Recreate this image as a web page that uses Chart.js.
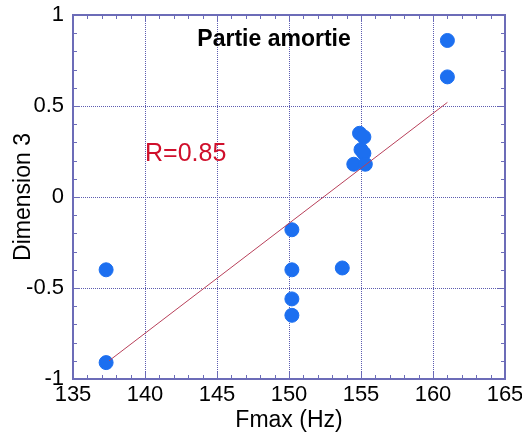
<!DOCTYPE html>
<html>
<head>
<meta charset="utf-8">
<script src="https://cdn.jsdelivr.net/npm/chart.js@4.4.1/dist/chart.umd.min.js"></script>
<style>
  html, body { margin: 0; padding: 0; background: #fff; }
  #wrap { width: 522px; height: 434px; }
</style>
</head>
<body>
<div id="wrap"><canvas id="plot"></canvas></div>
<script>
// measured points (Fmax in Hz, dimension 3)
const fmax = [137.3, 137.3, 150.2, 150.2, 150.2, 150.2, 153.7, 154.5, 154.9, 155.2, 155.0, 155.2, 155.3, 161.0, 161.0];
const dim3 = [-0.40, -0.91, -0.18, -0.40, -0.56, -0.65, -0.39, 0.18, 0.35, 0.33, 0.26, 0.24, 0.18, 0.86, 0.66];

// regression line ends
const fitX = [137.5, 161.0];
const fitY = [-0.90, 0.52];

const xTicks = [135, 140, 145, 150, 155, 160, 165];
const yTicks = [-1, -0.5, 0, 0.5, 1];

const chartTitle = "Partie amortie";
const rLabel = "R=0.85";

const sans = "'Liberation Sans', Arial, sans-serif";

const framePlugin = {
    id: "frame",
    afterDatasetsDraw(chart) {
        const { ctx, chartArea: a, scales } = chart;
        const x = scales.x, y = scales.y;
        ctx.save();
        ctx.strokeStyle = "#6c6cb8";
        ctx.lineWidth = 1;
        // inward minor/major ticks
        for (let v = 135; v <= 165; v += 1) {
            const px = Math.round(x.getPixelForValue(v)) + 0.5;
            const len = (v % 5 === 0) ? 7 : 4;
            ctx.beginPath();
            ctx.moveTo(px, a.bottom); ctx.lineTo(px, a.bottom - len);
            ctx.moveTo(px, a.top); ctx.lineTo(px, a.top + len);
            ctx.stroke();
        }
        for (let i = -10; i <= 10; i++) {
            const py = Math.round(y.getPixelForValue(i / 10)) + 0.5;
            const len = (i % 5 === 0) ? 7 : 4;
            ctx.beginPath();
            ctx.moveTo(a.left, py); ctx.lineTo(a.left + len, py);
            ctx.moveTo(a.right, py); ctx.lineTo(a.right - len, py);
            ctx.stroke();
        }
        ctx.lineWidth = 2;
        ctx.strokeRect(a.left, a.top, a.right - a.left, a.bottom - a.top);

        // annotations
        ctx.fillStyle = "#000";
        ctx.font = "bold 23px " + sans;
        ctx.textAlign = "center";
        ctx.textBaseline = "middle";
        ctx.fillText(chartTitle, x.getPixelForValue(148.96), y.getPixelForValue(0.865));
        ctx.fillStyle = "#d0102c";
        ctx.font = "25px " + sans;
        ctx.textAlign = "left";
        ctx.fillText(rLabel, x.getPixelForValue(140.0), y.getPixelForValue(0.235));
        ctx.restore();
    }
};

new Chart(document.getElementById("plot"), {
    type: "scatter",
    data: {
        datasets: [
            {
                type: "line",
                label: "fit",
                data: fitX.map((v, i) => ({ x: v, y: fitY[i] })),
                borderColor: "#b8405a",
                borderWidth: 1,
                pointRadius: 0,
                fill: false
            },
            {
                label: "Dimension 3",
                data: fmax.map((v, i) => ({ x: v, y: dim3[i] })),
                backgroundColor: "#1c6ff0",
                borderColor: "#1c6ff0",
                pointRadius: 7,
                pointHoverRadius: 7
            }
        ]
    },
    plugins: [framePlugin],
    options: {
        responsive: true,
        maintainAspectRatio: false,
        animation: false,
        layout: { padding: { top: 15, right: 17, left: 0, bottom: 0 } },
        plugins: { legend: { display: false }, tooltip: { enabled: false } },
        scales: {
            x: {
                type: "linear",
                min: 135,
                max: 165,
                afterBuildTicks: s => { s.ticks = xTicks.map(v => ({ value: v })); },
                afterFit: s => { s.height = 55; s.paddingLeft = 0; s.paddingRight = 0; },
                grid: { color: "#5c5cb0", lineWidth: 1, drawTicks: false },
                border: { display: false, dash: [1, 1] },
                ticks: { color: "#000", font: { family: sans, size: 22 }, padding: 3, maxRotation: 0 },
                title: { display: true, text: "Fmax (Hz)", color: "#000", font: { family: sans, size: 23 }, padding: { top: -9, bottom: 0 } }
            },
            y: {
                min: -1,
                max: 1,
                afterBuildTicks: s => { s.ticks = yTicks.map(v => ({ value: v })); },
                afterFit: s => { s.width = 73; s.paddingTop = 0; s.paddingBottom = 0; },
                grid: { color: "#5c5cb0", lineWidth: 1, drawTicks: false },
                border: { display: false, dash: [1, 1] },
                ticks: { color: "#000", font: { family: sans, size: 22 }, padding: 9, callback: v => String(v) },
                title: { display: true, text: "Dimension 3", color: "#000", font: { family: sans, size: 23 }, padding: { top: 10, bottom: 0 } }
            }
        }
    }
});
</script>
</body>
</html>
